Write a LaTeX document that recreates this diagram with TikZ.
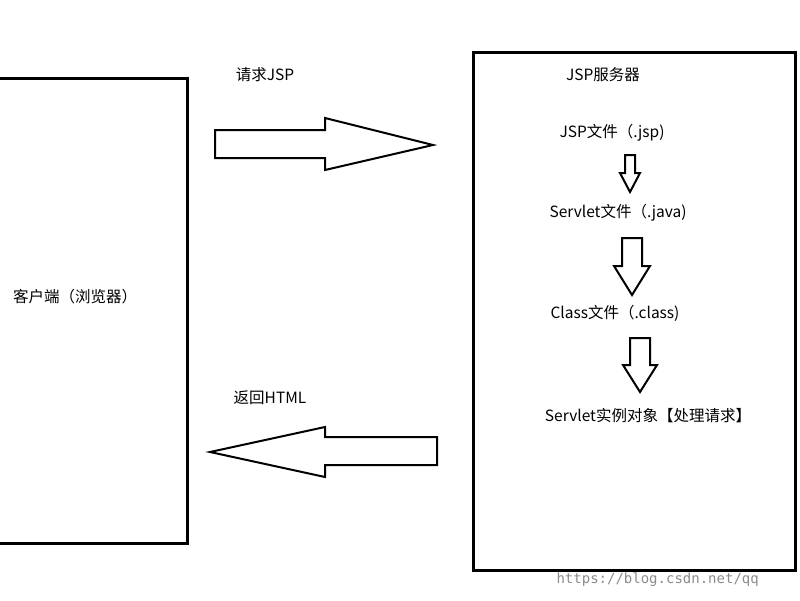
\documentclass[tikz,border=0pt]{standalone}
\usepackage{fontspec}
\setmainfont{Noto Sans CJK SC}
\newfontfamily\wmfont{DejaVu Sans Mono}
\begin{document}
\begin{tikzpicture}[x=1pt,y=-1pt,
  box/.style={draw=black,line width=3pt},
  blk/.style={draw=black,line width=2pt,fill=white,line join=miter},
  lbl/.style={font=\fontsize{15.5}{18}\selectfont},
  wm/.style={font=\wmfont\fontsize{14}{16}\selectfont,text=black!45}]
\useasboundingbox (0,0) rectangle (800,600);
\fill[white] (0,0) rectangle (800,600);
\draw[box] (-10,78) rectangle (187,543);
\draw[box] (473,52) rectangle (795,570);
% right arrow
\draw[blk] (215,130) -- (325,130) -- (325,118) -- (433,145) -- (325,170) -- (325,158) -- (215,158) -- cycle;
% left arrow
\draw[blk] (437,437) -- (325,437) -- (325,427) -- (210,452) -- (325,477) -- (325,465) -- (437,465) -- cycle;
% down arrows
\draw[blk] (625,155) -- (635,155) -- (635,173) -- (640,173) -- (630,192) -- (620,173) -- (625,173) -- cycle;
\draw[blk] (622,238) -- (642,238) -- (642,266) -- (650,266) -- (632,295) -- (614,266) -- (622,266) -- cycle;
\draw[blk] (630,338) -- (650,338) -- (650,365) -- (657,365) -- (640,392) -- (623,365) -- (630,365) -- cycle;
\node[lbl] (req) at (265,75) {请求JSP};
\node[lbl] (ret) at (270,398) {返回HTML};
\node[lbl] (client) at (75,297) {客户端（浏览器）};
\node[lbl] (srv) at (603,75) {JSP服务器};
\node[lbl] (jsp) at (612,133) {JSP文件（.jsp)};
\node[lbl] (servlet) at (618,213) {Servlet文件（.java)};
\node[lbl] (cls) at (615,313) {Class文件（.class)};
\node[lbl] (inst) at (648,416) {Servlet实例对象【处理请求】};
\node[wm,anchor=west] (w) at (553,580) {https://blog.csdn.net/qq};
\end{tikzpicture}
\end{document}
